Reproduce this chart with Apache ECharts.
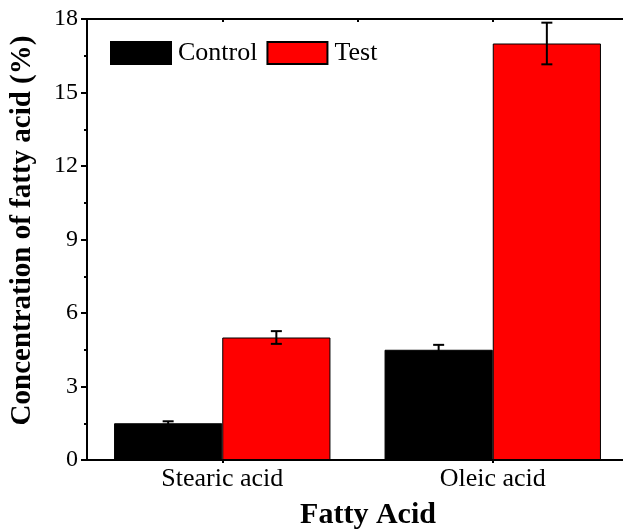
<!DOCTYPE html>
<html>
<head>
<meta charset="utf-8">
<script src="https://cdn.jsdelivr.net/npm/echarts@6/dist/echarts.min.js"></script>
<style>
html,body{margin:0;padding:0;background:#fff;}
#main{width:623px;height:530px;}
</style>
</head>
<body>
<div id="main"></div>
<script>
var categories=['Stearic acid','Oleic acid'];
var controlVals=[1.5,4.5];
var controlErr=[0.08,0.2];
var testVals=[5.0,17.0];
var testErr=[0.26,0.85];
var yTicks={min:0,max:18,interval:3};

var font='"Liberation Serif","Times New Roman",serif';

function errData(vals,errs){
	var out=[];
	for(var i=0;i<vals.length;i++){
		out.push([i,vals[i],errs[i]]);
	}
	return out;
}
// draws an I-beam, shifted to the middle of its bar
function errRender(shift){
	return function(params,api){
		var x=api.value(0),v=api.value(1),e=api.value(2);
		var band=api.size([1,0])[0];
		var dx=shift*band*0.8/4;
		var hi=api.coord([x,v+e]);
		var lo=api.coord([x,v-e]);
		var cx=hi[0]+dx,cap=5.5;
		var st={stroke:'#000',lineWidth:2};
		return {type:'group',children:[
			{type:'line',shape:{x1:cx,y1:hi[1],x2:cx,y2:lo[1]},style:st},
			{type:'line',shape:{x1:cx-cap,y1:hi[1],x2:cx+cap,y2:hi[1]},style:st},
			{type:'line',shape:{x1:cx-cap,y1:lo[1],x2:cx+cap,y2:lo[1]},style:st}
		]};
	};
}

var myChart=echarts.init(document.getElementById('main'));
var option={
	animation:false,
	backgroundColor:'#fff',
	grid:{left:87,right:-5,top:19,bottom:70,containLabel:false,outerBoundsMode:'none'},
	legend:{
		data:['Control','Test'],
		left:105,top:35,
		itemWidth:60,itemHeight:22,itemGap:9,
		icon:'rect',
		textStyle:{fontFamily:font,fontSize:26,color:'#000',padding:[0,0,0,2]}
	},
	xAxis:[{
		type:'category',
		data:categories,
		position:'bottom',
		axisLine:{lineStyle:{color:'#000',width:2}},
		axisTick:{show:true,alignWithLabel:true,length:3,lineStyle:{color:'#000',width:2}},
		axisLabel:{fontFamily:font,fontSize:26,color:'#000',margin:6},
		name:'Fatty Acid',
		nameLocation:'middle',
		nameGap:40,
		nameTextStyle:{fontFamily:font,fontSize:30,fontWeight:'bold',color:'#000',padding:[0,0,0,21]}
	},{
		type:'value',
		position:'top',
		min:0,max:2,interval:0.5,
		axisLine:{show:true,lineStyle:{color:'#000',width:2}},
		axisTick:{show:true,inside:true,length:3,lineStyle:{color:'#000',width:2}},
		axisLabel:{show:false},
		splitLine:{show:false}
	}],
	yAxis:{
		type:'value',
		min:yTicks.min,max:yTicks.max,interval:yTicks.interval,
		axisLine:{show:true,lineStyle:{color:'#000',width:2}},
		axisTick:{show:true,length:6,lineStyle:{color:'#000',width:2}},
		minorTick:{show:true,splitNumber:2,length:3,lineStyle:{color:'#000',width:2}},
		splitLine:{show:false},
		axisLabel:{fontFamily:font,fontSize:24,color:'#000',margin:9},
		name:'Concentration of fatty acid (%)',
		nameLocation:'middle',
		nameGap:50,
		nameTextStyle:{fontFamily:font,fontSize:29,fontWeight:'bold',color:'#000',padding:[0,0,0,18]}
	},
	series:[{
		name:'Control',
		type:'bar',
		data:controlVals,
		barGap:'0%',
		barCategoryGap:'20%',
		itemStyle:{color:'#000',borderColor:'#000',borderWidth:1}
	},{
		name:'Test',
		type:'bar',
		data:testVals,
		itemStyle:{color:'#ff0000',borderColor:'#000',borderWidth:1}
	},{
		type:'custom',
		renderItem:errRender(-1),
		data:errData(controlVals,controlErr),
		z:10
	},{
		type:'custom',
		renderItem:errRender(1),
		data:errData(testVals,testErr),
		z:10
	}]
};
myChart.setOption(option);
</script>
</body>
</html>
